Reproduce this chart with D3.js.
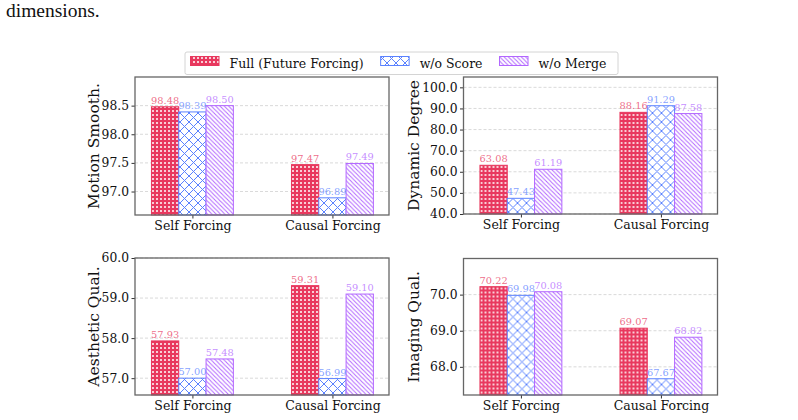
<!DOCTYPE html>
<html>
<head>
<meta charset="utf-8">
<script src="https://cdn.jsdelivr.net/npm/d3@7"></script>
<style>
  html, body { margin: 0; padding: 0; background: #fff; }
  svg { display: block; }
</style>
</head>
<body>
<div id="chart"></div>
<script>
// Chart data
var categories = ["Self Forcing", "Causal Forcing"];
var seriesNames = ["Full (Future Forcing)", "w/o Score", "w/o Merge"];

// values per series: [Self Forcing, Causal Forcing]
var motionSmooth = [[98.48, 97.47], [98.39, 96.89], [98.50, 97.49]];
var dynamicDegree = [[63.08, 88.16], [47.43, 91.29], [61.19, 87.58]];
var aestheticQual = [[57.93, 59.31], [57.00, 56.99], [57.48, 59.10]];
var imagingQual = [[70.22, 69.07], [69.98, 67.67], [70.08, 68.82]];

// tick labels
var motionTicks = [97.0, 97.5, 98.0, 98.5];
var dynamicTicks = [40, 50, 60, 70, 80, 90, 100];
var aestheticTicks = [57, 58, 59, 60];
var imagingTicks = [68, 69, 70];

// Define SVG area dimensions
var svgWidth = 798;
var svgHeight = 420;

var colors = ["#e8385e", "#5b82ff", "#b266ff"];
var fontFamily = "'DejaVu Serif', serif";

var svg = d3.select("#chart")
  .append("svg")
  .attr("width", svgWidth)
  .attr("height", svgHeight);

svg.append("rect")
  .attr("width", svgWidth)
  .attr("height", svgHeight)
  .attr("fill", "#fff");

// leftover line of the paper text above the figure
svg.append("text")
  .attr("x", 6)
  .attr("y", 17)
  .attr("font-family", "'Liberation Serif', 'Times New Roman', serif")
  .attr("font-size", 19.5)
  .attr("fill", "#111")
  .text("dimensions.");

// hatch patterns
var defs = svg.append("defs");

var ds = 4;
var dots = defs.append("pattern")
  .attr("id", "pat0")
  .attr("patternUnits", "userSpaceOnUse")
  .attr("width", ds)
  .attr("height", ds);
dots.append("rect").attr("width", ds).attr("height", ds).attr("fill", colors[0]);
dots.append("circle").attr("cx", ds / 2).attr("cy", ds / 2).attr("r", 1.0).attr("fill", "#fff");

var cross = defs.append("pattern")
  .attr("id", "pat1")
  .attr("patternUnits", "userSpaceOnUse")
  .attr("width", 9)
  .attr("height", 9);
cross.append("rect").attr("width", 9).attr("height", 9).attr("fill", "#fff");
cross.append("path")
  .attr("d", "M0,0L9,9M9,0L0,9M-1,1L1,-1M8,10L10,8M-1,8L1,10M8,-1L10,1")
  .attr("stroke", colors[1])
  .attr("stroke-width", 1);

var s = 4.3;
var diag = defs.append("pattern")
  .attr("id", "pat2")
  .attr("patternUnits", "userSpaceOnUse")
  .attr("width", s)
  .attr("height", s);
diag.append("rect").attr("width", s).attr("height", s).attr("fill", "#fff");
diag.append("path")
  .attr("d", `M0,0L${s},${s}M-1,${s - 1}L1,${s + 1}M${s - 1},-1L${s + 1},1`)
  .attr("stroke", colors[2])
  .attr("stroke-width", 1);

// panels: values, ticks, y range and where each axes box sits
var panels = [
  { label: "Motion Smooth.", data: motionSmooth, ticks: motionTicks, domain: [96.59, 99.0], left: 135, top: 77, width: 254, height: 138 },
  { label: "Dynamic Degree", data: dynamicDegree, ticks: dynamicTicks, domain: [40, 104.9], left: 463.5, top: 77, width: 254, height: 137 },
  { label: "Aesthetic Qual.", data: aestheticQual, ticks: aestheticTicks, domain: [56.58, 60.0], left: 135, top: 258, width: 254, height: 137 },
  { label: "Imaging Qual.", data: imagingQual, ticks: imagingTicks, domain: [67.22, 71.0], left: 463.5, top: 258.5, width: 254, height: 136.5 }
];

var barWidth = 0.195;

panels.forEach(function(p) {
  var g = svg.append("g")
    .attr("transform", `translate(${p.left}, ${p.top})`);

  var x = d3.scaleLinear()
    .domain([-0.41, 1.404])
    .range([0, p.width]);

  var y = d3.scaleLinear()
    .domain(p.domain)
    .range([p.height, 0]);

  // dashed grid
  g.append("g")
    .selectAll("line")
    .data(p.ticks)
    .enter()
    .append("line")
    .attr("x1", 0)
    .attr("x2", p.width)
    .attr("y1", d => y(d))
    .attr("y2", d => y(d))
    .attr("stroke", "#cfcfcf")
    .attr("stroke-width", 0.8)
    .attr("stroke-dasharray", "3,2");

  // flatten to one record per bar
  var bars = [];
  p.data.forEach(function(vals, si) {
    vals.forEach(function(v, ci) {
      bars.push({ series: si, cat: ci, value: v });
    });
  });

  var bw = x(barWidth) - x(0);

  g.selectAll(".bar")
    .data(bars)
    .enter()
    .append("rect")
    .attr("class", "bar")
    .attr("x", d => x(d.cat + (d.series - 1) * barWidth) - bw / 2)
    .attr("width", bw)
    .attr("y", d => y(d.value))
    .attr("height", d => y.range()[0] - y(d.value))
    .attr("fill", d => `url(#pat${d.series})`)
    .attr("stroke", d => colors[d.series])
    .attr("stroke-width", 1);

  // value labels
  g.selectAll(".val")
    .data(bars)
    .enter()
    .append("text")
    .attr("class", "val")
    .attr("x", d => x(d.cat + (d.series - 1) * barWidth))
    .attr("y", d => y(d.value) - 3)
    .attr("text-anchor", "middle")
    .attr("font-family", fontFamily)
    .attr("font-size", 9.8)
    .attr("fill", d => colors[d.series])
    .attr("fill-opacity", 0.75)
    .text(d => d.value.toFixed(2));

  // axes
  var leftAxis = d3.axisLeft(y)
    .tickValues(p.ticks)
    .tickFormat(d3.format(".1f"))
    .tickSize(3.5)
    .tickPadding(2.5);

  var bottomAxis = d3.axisBottom(x)
    .tickValues([0, 1])
    .tickFormat(i => categories[i])
    .tickSize(3.5)
    .tickPadding(3);

  var ya = g.append("g").call(leftAxis);
  var xa = g.append("g").attr("transform", `translate(0, ${p.height})`).call(bottomAxis);

  [ya, xa].forEach(function(a) {
    a.select(".domain").remove();
    a.selectAll("text")
      .attr("font-family", fontFamily)
      .attr("font-size", 12.5)
      .attr("fill", "#111");
    a.selectAll("line").attr("stroke", "#333").attr("stroke-width", 1);
  });
  ya.selectAll("text").attr("font-size", 12.3);

  // axes frame
  g.append("rect")
    .attr("width", p.width)
    .attr("height", p.height)
    .attr("fill", "none")
    .attr("stroke", "#666")
    .attr("stroke-width", 1.3);

  // y label
  var yLabelX = p.label === "Dynamic Degree" || p.label === "Imaging Qual." ? -44.5 : -36.5;
  g.append("text")
    .attr("transform", `translate(${yLabelX}, ${p.height / 2}) rotate(-90)`)
    .attr("text-anchor", "middle")
    .attr("font-family", fontFamily)
    .attr("font-size", 15.5)
    .attr("fill", "#111")
    .text(p.label);
});

// legend
var legend = svg.append("g");
legend.append("rect")
  .attr("x", 185)
  .attr("y", 52)
  .attr("width", 433)
  .attr("height", 22.5)
  .attr("rx", 2)
  .attr("fill", "#fff")
  .attr("stroke", "#d4d4d4")
  .attr("stroke-width", 1);

var cursor = 190.5;
seriesNames.forEach(function(name, i) {
  legend.append("rect")
    .attr("x", cursor)
    .attr("y", 56.5)
    .attr("width", 28.5)
    .attr("height", 9)
    .attr("fill", `url(#pat${i})`)
    .attr("stroke", colors[i])
    .attr("stroke-width", 1);
  var t = legend.append("text")
    .attr("x", cursor + 39)
    .attr("y", 68)
    .attr("font-family", fontFamily)
    .attr("font-size", 12.5)
    .attr("fill", "#111")
    .text(name);
  cursor += 39 + t.node().getComputedTextLength() + 17;
});
</script>
</body>
</html>
